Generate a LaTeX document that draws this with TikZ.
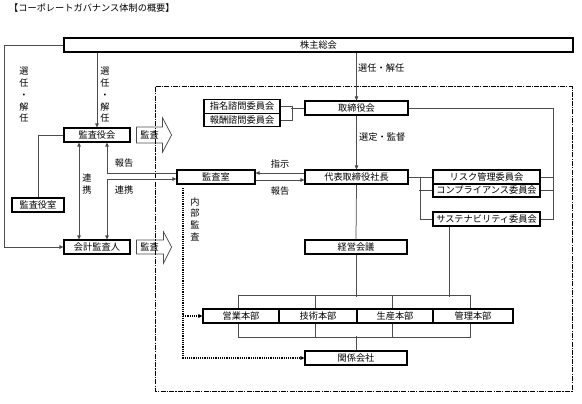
\documentclass[tikz,border=0pt]{standalone}
\usepackage{fontspec}
\setmainfont{Noto Sans CJK JP}
\usetikzlibrary{arrows.meta}
\begin{document}
\begin{tikzpicture}[x=1pt,y=-1pt,
  box/.style={draw,line width=1.2pt,inner sep=0pt,font=\fontsize{9.2}{10}\selectfont,fill=white},
  conn/.style={draw=black!70,line width=0.75pt},
  arr/.style={conn,-{Triangle[length=4pt,width=3.6pt]}},
  darr/.style={conn,{Triangle[length=4pt,width=3.6pt]}-{Triangle[length=4pt,width=3.6pt]}},
  dots/.style={line width=1.1pt,dash pattern=on 1.1pt off 1.1pt,-{Triangle[length=4pt,width=3.6pt]}},
  frame/.style={line width=1pt,dash pattern=on 5pt off 1.2pt on 1.2pt off 1.2pt},
  blk/.style={draw=black!70,line width=0.75pt},
  lbl/.style={inner sep=0pt,font=\fontsize{9.2}{10}\selectfont},
  vlbl/.style={inner sep=0pt,align=center,font=\fontsize{9.2}{11.7}\selectfont}
]
\useasboundingbox (0,0) rectangle (582,404);

% title
\node[lbl,anchor=west] (title) at (9,8) {【コーポレートガバナンス体制の概要】};

% boxes
\node[box,minimum width=509pt,minimum height=14pt] (kabu) at (318.5,45) {株主総会};
\node[box,minimum width=66pt,minimum height=14pt] (ksyk) at (97,135) {監査役会};
\node[box,minimum width=66pt,minimum height=14pt] (kaikei) at (97,247) {会計監査人};
\node[box,minimum width=52pt,minimum height=14pt] (ksys) at (38,205) {監査役室};
\node[box,minimum width=78pt,minimum height=14pt] (ksst) at (216,177) {監査室};
\node[box,minimum width=76pt,minimum height=13.5pt] (shimei) at (242,106.5) {指名諮問委員会};
\node[box,minimum width=76pt,minimum height=13.5pt] (hoshu) at (242,120) {報酬諮問委員会};
\node[box,minimum width=103pt,minimum height=14pt] (tori) at (356.5,108) {取締役会};
\node[box,minimum width=103pt,minimum height=14pt] (shacho) at (356.5,177) {代表取締役社長};
\node[box,minimum width=107pt,minimum height=14pt] (risk) at (486.5,177) {リスク管理委員会};
\node[box,minimum width=107pt,minimum height=13pt] (comp) at (486.5,190.5) {コンプライアンス委員会};
\node[box,minimum width=107pt,minimum height=14pt] (sust) at (486.5,219) {サステナビリティ委員会};
\node[box,minimum width=102pt,minimum height=14pt] (keiei) at (356,247) {経営会議};
\node[box,minimum width=76pt,minimum height=14pt] (eigyo) at (241,316) {営業本部};
\node[box,minimum width=78pt,minimum height=14pt] (gijutsu) at (318,316) {技術本部};
\node[box,minimum width=76pt,minimum height=14pt] (seisan) at (395,316) {生産本部};
\node[box,minimum width=80pt,minimum height=14pt] (kanri) at (473,316) {管理本部};
\node[box,minimum width=102pt,minimum height=14pt] (kankei) at (356,358) {関係会社};

% block arrows 監査
\begin{scope}[shift={(ksyk.east)}]
  \draw[blk] (6,-8) -- (32,-8) -- (32,-17) -- (41,0) -- (32,17) -- (32,8) -- (6,8) -- cycle;
  \node[lbl] (kansa1) at (19,0) {監査};
\end{scope}
\begin{scope}[shift={(kaikei.east)}]
  \draw[blk] (6,-7) -- (33,-7) -- (33,-15) -- (41,0) -- (33,16) -- (33,7) -- (6,7) -- cycle;
  \node[lbl] (kansa2) at (19,0) {監査};
\end{scope}

% frame
\draw[frame] (155,87) rectangle (572,391);

% connectors from 株主総会
\draw[arr] (kabu.west) -- ++(-59,0) |- (kaikei.west);
\draw[arr] (kabu.south -| ksyk.north) -- (ksyk.north);
\draw[arr] (kabu.south -| tori.north) -- (tori.north);
\node[vlbl] (sn1) at (24,95) {選\\任\\・\\解\\任};
\node[vlbl] (sn2) at (105,95) {選\\任\\・\\解\\任};
\node[lbl,anchor=west] (sn3) at (358,68) {選任・解任};

% 監査役会 side
\draw[conn] (ksys.north) |- (ksyk.west);
\draw[darr] ([xshift=-18pt]ksyk.south) -- ([xshift=-18pt]kaikei.north);
\node[vlbl] (rk1) at (87,184) {連\\携};
\draw[arr] ([yshift=4pt]ksst.west) -| ([xshift=10pt]ksyk.south);
\draw[darr] ([xshift=10pt]kaikei.north) |- ([yshift=-2pt]ksst.west);
\node[lbl] (hk1) at (124,163) {報告};
\node[lbl] (rk2) at (124,190) {連携};

% 監査室 - 社長
\draw[arr] ([yshift=4pt]shacho.west) -- ([yshift=4pt]ksst.east);
\draw[arr] ([yshift=-3pt]ksst.east) -- ([yshift=-3pt]shacho.west);
\node[lbl] (shiji) at (280,164) {指示};
\node[lbl] (hk2) at (280,191) {報告};

% 取締役会
\draw[arr] (tori.south) -- (shacho.north);
\node[lbl,anchor=west] (sentei) at (359,137) {選定・監督};
\draw[conn] (shimei.east) -- ++(12,0) |- (hoshu.east);
\draw[conn] (tori.west) -- ++(-13,0);
\draw[conn] (tori.east) -| ([xshift=13pt]sust.east) -- (sust.east);
\draw[conn] (risk.east) -- ++(13,0);
\draw[conn] (comp.east) -- ++(13,0);

% 社長 - committees
\draw[conn] (shacho.east) -- (risk.west);
\draw[conn] ([xshift=12pt]shacho.east) |- (sust.west);
\draw[conn] (comp.west) -- ++(-13,0);

% 社長 - 経営会議 - 本部
\draw[conn] (shacho.south) -- (keiei.north);
\draw[conn] (keiei.south) -- ++(0,42);
\draw[conn] ([xshift=-37.5pt]sust.south) -- ++(0,70);
\draw[conn] ([xshift=-3pt,yshift=13pt]eigyo.north) -- ([xshift=-3pt,yshift=13pt]kanri.north);
\foreach \n in {eigyo,gijutsu,seisan,kanri}{
  \draw[conn] ([xshift=-3pt]\n.north) -- ++(0,-13);
  \draw[conn] ([xshift=-3pt]\n.south) -- ++(0,14);
}
\draw[conn] ([xshift=-3pt,yshift=-14pt]eigyo.south) -- ([xshift=-3pt,yshift=-14pt]kanri.south);
\draw[conn] (kankei.north) -- ++(0,-14);

% 内部監査
\coordinate (ia) at (183,188);
\draw[dots] (ia) |- (kankei.west);
\draw[dots] (ia |- eigyo.west) -- (eigyo.west);
\node[vlbl] (naibu) at (195,219) {内\\部\\監\\査};
\end{tikzpicture}
\end{document}
